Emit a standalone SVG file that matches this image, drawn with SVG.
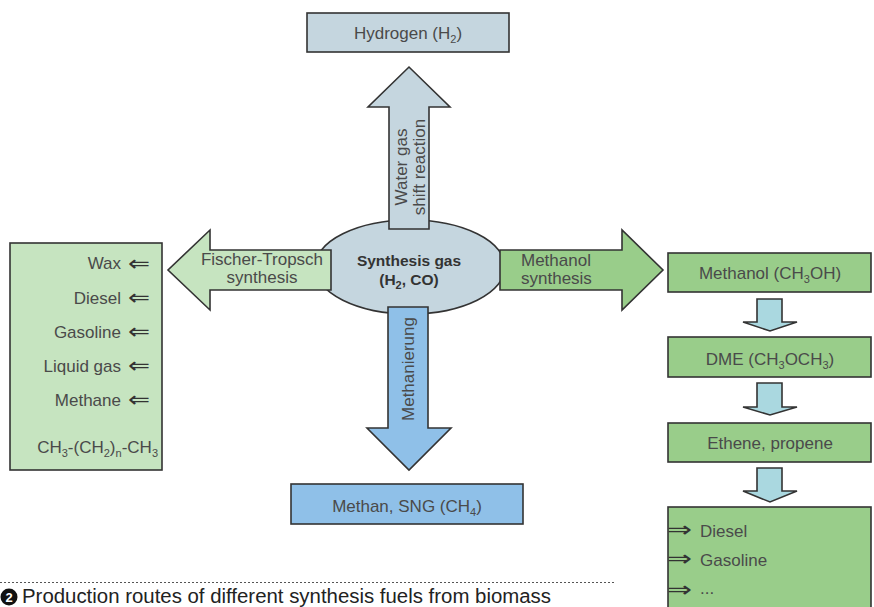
<svg xmlns="http://www.w3.org/2000/svg" width="874" height="607" viewBox="0 0 874 607">
<style>
  text { font-family: "Liberation Sans", Arial, sans-serif; font-size: 17px; fill: #4a4a4a; }
  .c { text-anchor: middle; }
  .e { text-anchor: end; }
  .sub { font-size: 11px; }
  .b { font-weight: bold; fill: #333; font-size: 15.5px; }
  .ln { stroke: #333; stroke-width: 1.6; stroke-linejoin: miter; }
  .gray { fill: #c5d6df; }
  .lg { fill: #c6e4c0; }
  .mg { fill: #99cd8a; }
  .bl { fill: #8fc0e8; }
  .cy { fill: #aad8e0; }
  .sym { font-family: "DejaVu Sans", sans-serif; font-size: 22px; fill: #333; }
  .cap { font-size: 20px; fill: #222; }
</style>

<g id="synthesis-gas">
  <ellipse class="gray ln" cx="410" cy="267" rx="95" ry="47"/>
</g>

<g id="connectors">
  <polygon id="arrow-wgs" class="gray ln" points="389,229 389,107 368,107 409,67 450,107 429,107 429,229"/>
  <polygon id="arrow-meth" class="bl ln" points="388,307 428,307 428,428 451,428 409,470 367,428 388,428"/>
  <polygon id="arrow-ft" class="lg ln" points="331,250 210,250 210,230 168,270 210,310 210,290 331,290"/>
  <polygon id="arrow-mos" class="mg ln" points="500,250 622,250 622,230 663,270 622,310 622,290 500,290"/>
  <polygon class="cy ln" points="757,299 782,299 782,322 797,322 770,331 743,322 757,322"/>
  <polygon class="cy ln" points="757,383 782,383 782,407 797,407 770,415 743,407 757,407"/>
  <polygon class="cy ln" points="757,468 782,468 782,491 797,491 770,502 743,491 757,491"/>
  <g transform="translate(409,167) rotate(-90)">
    <text class="c" x="0" y="-2">Water gas</text>
    <text class="c" x="0" y="16">shift reaction</text>
  </g>
  <g transform="translate(409,369) rotate(-90)">
    <text class="c" x="0" y="5">Methanierung</text>
  </g>
  <text class="c" x="262" y="265">Fischer-Tropsch</text>
  <text class="c" x="262" y="283">synthesis</text>
  <text x="521" y="266">Methanol</text>
  <text x="521" y="284">synthesis</text>
</g>

<g id="synthesis-gas-label">
  <text class="c b" x="409" y="266">Synthesis gas</text>
  <text class="c b" x="409" y="285">(H<tspan class="sub" dy="4">2</tspan><tspan dy="-4">, CO)</tspan></text>
</g>

<g id="hydrogen">
  <rect class="gray ln" x="307" y="13" width="202" height="39"/>
  <text class="c" x="408" y="39">Hydrogen (H<tspan class="sub" dy="4">2</tspan><tspan dy="-4">)</tspan></text>
</g>

<g id="methan">
  <rect class="bl ln" x="291" y="484" width="232" height="40"/>
  <text class="c" x="407" y="512">Methan, SNG (CH<tspan class="sub" dy="4">4</tspan><tspan dy="-4">)</tspan></text>
</g>

<g id="ft-products">
  <rect class="lg ln" x="10" y="243" width="152" height="227"/>
  <text class="e" x="121" y="269">Wax</text>
  <text class="e" x="121" y="304">Diesel</text>
  <text class="e" x="121" y="338">Gasoline</text>
  <text class="e" x="121" y="372">Liquid gas</text>
  <text class="e" x="121" y="406">Methane</text>
  <text class="sym" x="128" y="271" textLength="22" lengthAdjust="spacingAndGlyphs">⇐</text>
  <text class="sym" x="128" y="305" textLength="22" lengthAdjust="spacingAndGlyphs">⇐</text>
  <text class="sym" x="128" y="339" textLength="22" lengthAdjust="spacingAndGlyphs">⇐</text>
  <text class="sym" x="128" y="373" textLength="22" lengthAdjust="spacingAndGlyphs">⇐</text>
  <text class="sym" x="128" y="407" textLength="22" lengthAdjust="spacingAndGlyphs">⇐</text>
  <text class="e" x="158" y="453">CH<tspan class="sub" dy="4">3</tspan><tspan dy="-4">-(CH</tspan><tspan class="sub" dy="4">2</tspan><tspan dy="-4">)</tspan><tspan class="sub" dy="4">n</tspan><tspan dy="-4">-CH</tspan><tspan class="sub" dy="4">3</tspan></text>
</g>

<g id="methanol">
  <rect class="mg ln" x="668" y="253" width="203" height="39"/>
  <text class="c" x="770" y="279">Methanol (CH<tspan class="sub" dy="4">3</tspan><tspan dy="-4">OH)</tspan></text>
</g>

<g id="dme">
  <rect class="mg ln" x="668" y="337" width="203" height="40"/>
  <text class="c" x="770" y="365">DME (CH<tspan class="sub" dy="4">3</tspan><tspan dy="-4">OCH</tspan><tspan class="sub" dy="4">3</tspan><tspan dy="-4">)</tspan></text>
</g>

<g id="ethene">
  <rect class="mg ln" x="668" y="423" width="203" height="39"/>
  <text class="c" x="770" y="449">Ethene, propene</text>
</g>

<g id="mto-products">
  <rect class="mg ln" x="668" y="507" width="203" height="110"/>
  <text class="sym" x="667" y="537" textLength="25" lengthAdjust="spacingAndGlyphs">⇒</text>
  <text class="sym" x="667" y="566" textLength="25" lengthAdjust="spacingAndGlyphs">⇒</text>
  <text class="sym" x="667" y="597" textLength="25" lengthAdjust="spacingAndGlyphs">⇒</text>
  <text x="700" y="537">Diesel</text>
  <text x="700" y="566">Gasoline</text>
  <text x="700" y="594">...</text>
</g>

<g id="caption">
  <line x1="0" y1="582.5" x2="614" y2="582.5" stroke="#555" stroke-width="1" stroke-dasharray="2,2"/>
  <circle cx="9" cy="597" r="8.5" fill="#111"/>
  <text x="9" y="602" text-anchor="middle" style="font-size:13px;font-weight:bold;fill:#fff">2</text>
  <text class="cap" x="22" y="602.5" textLength="529" lengthAdjust="spacingAndGlyphs">Production routes of different synthesis fuels from biomass</text>
</g>
</svg>
